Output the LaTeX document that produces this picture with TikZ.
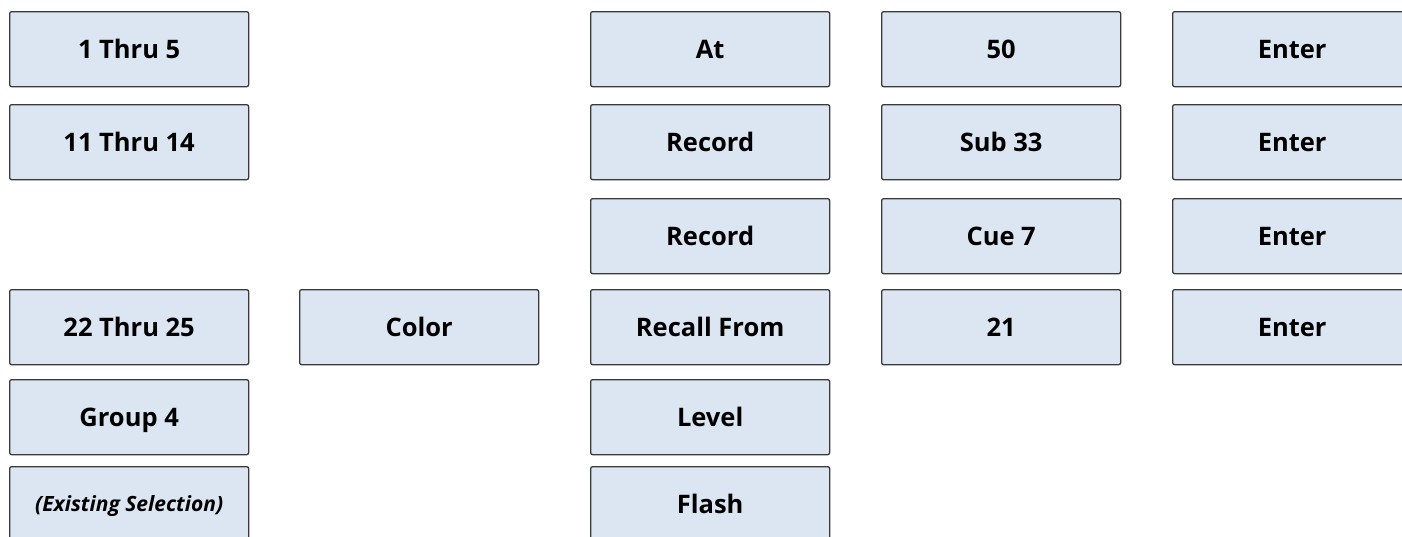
\documentclass[tikz,border=0pt]{standalone}
\usepackage{fontspec}
\setmainfont{Open Sans}
\definecolor{boxfill}{HTML}{DCE6F2}
\definecolor{boxline}{HTML}{3A3A3A}
\tikzset{
  key/.style={draw=boxline, line width=1.3pt, fill=boxfill, rounded corners=2pt,
    minimum width=239pt, minimum height=75pt, inner sep=0pt, anchor=north west,
    text height=18.5pt, text depth=0pt,
    font=\fontsize{25.5}{30}\selectfont\bfseries, text=black},
  keyit/.style={key, text height=14.5pt, font=\fontsize{21}{25}\selectfont\bfseries\itshape}
}
\begin{document}
\begin{tikzpicture}[x=1pt,y=-1pt]
\useasboundingbox (0,0) rectangle (1402,536);
\clip (0,0) rectangle (1402,536);
% column 1
\node[key] (a1) at (9,11) {1 Thru 5};
\node[key] (a2) at (9,104) {11 Thru 14};
\node[key] (a4) at (9,289) {22 Thru 25};
\node[key] (a5) at (9,379) {Group 4};
\node[keyit] (a6) at (9,466) {(Existing Selection)};
% column 2
\node[key] (b4) at (299,289) {Color};
% column 3
\node[key] (c1) at (590,11) {At};
\node[key] (c2) at (590,104) {Record};
\node[key] (c3) at (590,198) {Record};
\node[key] (c4) at (590,289) {Recall From};
\node[key] (c5) at (590,379) {Level};
\node[key] (c6) at (590,466) {Flash};
% column 4
\node[key] (d1) at (881,11) {50};
\node[key] (d2) at (881,104) {Sub 33};
\node[key] (d3) at (881,198) {Cue 7};
\node[key] (d4) at (881,289) {21};
% column 5
\node[key] (e1) at (1172,11) {Enter};
\node[key] (e2) at (1172,104) {Enter};
\node[key] (e3) at (1172,198) {Enter};
\node[key] (e4) at (1172,289) {Enter};
\end{tikzpicture}
\end{document}
